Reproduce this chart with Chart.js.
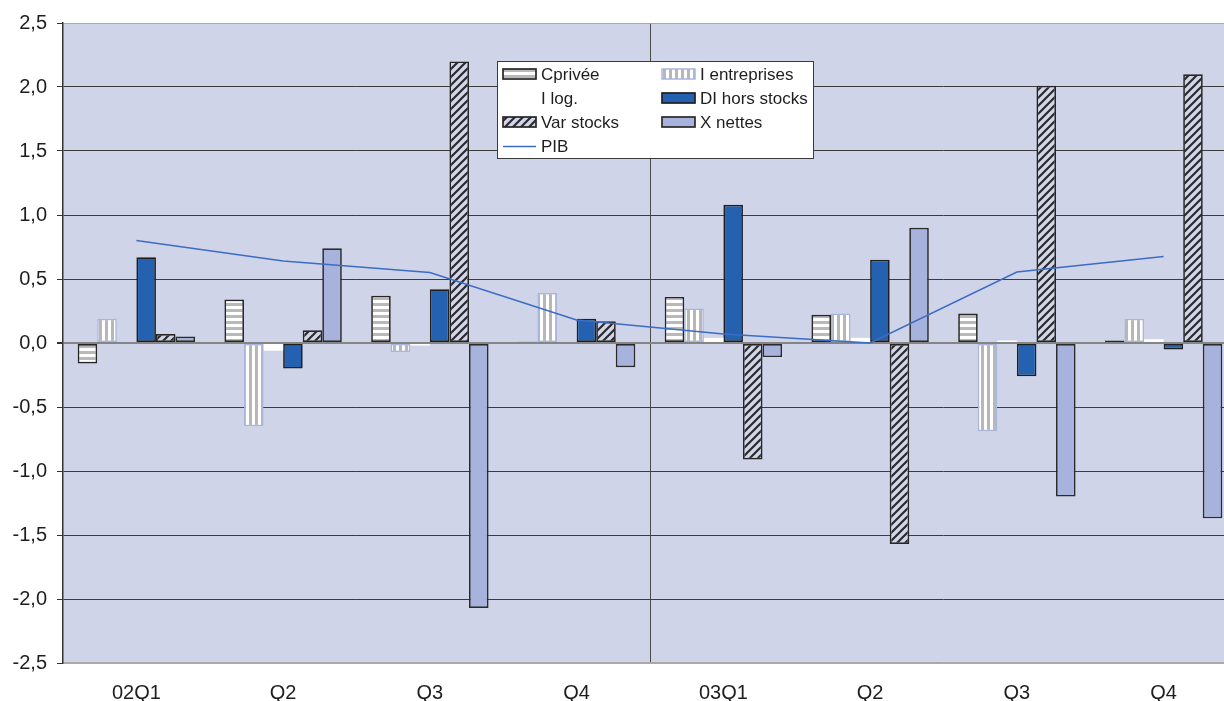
<!DOCTYPE html>
<html lang="fr">
<head>
<meta charset="utf-8">
<title>Contributions à la croissance du PIB</title>
<script src="https://cdn.jsdelivr.net/npm/chart.js@4/dist/chart.umd.min.js"></script>
<style>
  html, body { margin: 0; padding: 0; background: #ffffff; overflow: hidden; }
  #wrap { width: 1237px; height: 701px; }
  canvas { display: block; }
</style>
</head>
<body>
<div id="wrap"><canvas id="c" width="1237" height="701"></canvas></div>
<script>
// Trimestres
const categories = ['02Q1', 'Q2', 'Q3', 'Q4', '03Q1', 'Q2', 'Q3', 'Q4'];

// Contributions à la croissance trimestrielle (points de %)
const cPrivee      = [-0.16, 0.34, 0.37, 0.01, 0.36, 0.22, 0.23, 0.02];
const iEntreprises = [0.19, -0.65, -0.07, 0.39, 0.27, 0.23, -0.69, 0.19];
const iLog         = [0.00, -0.06, -0.02, 0.00, 0.04, 0.04, 0.02, 0.03];
const diHorsStocks = [0.67, -0.20, 0.42, 0.19, 1.08, 0.65, -0.26, -0.05];
const varStocks    = [0.07, 0.10, 2.20, 0.17, -0.91, -1.57, 2.01, 2.10];
const xNettes      = [0.05, 0.74, -2.07, -0.19, -0.11, 0.90, -1.20, -1.37];
const pib          = [0.80, 0.64, 0.55, 0.18, 0.07, 0.00, 0.555, 0.675];

// Axe des ordonnées
const yMin = -2.5, yMax = 2.5, yStep = 0.5;

const FONT = "'Liberation Sans', Arial, Helvetica, sans-serif";

// Motifs de remplissage
function makePattern(w, h, paint) {
  const c = document.createElement('canvas');
  c.width = w; c.height = h;
  const g = c.getContext('2d');
  paint(g, w, h);
  return g.createPattern(c, 'repeat');
}
const patHoriz = makePattern(6, 6, (g, w, h) => {
  g.fillStyle = '#ffffff'; g.fillRect(0, 0, w, h);
  g.fillStyle = '#b9b9b9'; g.fillRect(0, 3, w, 3);
});
const patVert = makePattern(6, 6, (g, w, h) => {
  g.fillStyle = '#ffffff'; g.fillRect(0, 0, w, h);
  g.fillStyle = '#b7b7b7'; g.fillRect(3, 0, 3, h);
});
const patDiag = makePattern(8, 8, (g, w, h) => {
  g.fillStyle = '#d2d6ec'; g.fillRect(0, 0, w, h);
  g.strokeStyle = '#2b2b2b'; g.lineWidth = 2.2;
  g.beginPath();
  g.moveTo(-2, h + 2); g.lineTo(w + 2, -2);
  g.moveTo(-2, 2); g.lineTo(2, -2);
  g.moveTo(w - 2, h + 2); g.lineTo(w + 2, h - 2);
  g.stroke();
});

const barCommon = {
  type: 'bar',
  borderSkipped: false,
  barPercentage: 1,
  categoryPercentage: 0.8,
  order: 1
};

const datasets = [
  Object.assign({ label: 'Cprivée', data: cPrivee, backgroundColor: patHoriz, borderColor: '#262626', borderWidth: 1.7 }, barCommon),
  Object.assign({ label: 'I entreprises', data: iEntreprises, backgroundColor: patVert, borderColor: '#aab5de', borderWidth: 1.5 }, barCommon),
  Object.assign({ label: 'I log.', data: iLog, backgroundColor: '#ffffff', borderColor: '#ffffff', borderWidth: 0 }, barCommon),
  Object.assign({ label: 'DI hors stocks', data: diHorsStocks, backgroundColor: '#2461b1', borderColor: '#1f1f1f', borderWidth: 1.7 }, barCommon),
  Object.assign({ label: 'Var stocks', data: varStocks, backgroundColor: patDiag, borderColor: '#262626', borderWidth: 1.7 }, barCommon),
  Object.assign({ label: 'X nettes', data: xNettes, backgroundColor: '#a7b3dc', borderColor: '#2a2a2a', borderWidth: 1.7 }, barCommon),
  {
    type: 'line', label: 'PIB', data: pib,
    borderColor: '#3b6cc6', borderWidth: 1.5, pointRadius: 0, tension: 0,
    fill: false, order: 0
  }
];

// Fond de la zone de tracé
const plotBackground = {
  id: 'plotBackground',
  beforeDraw(chart) {
    const { ctx, chartArea: a } = chart;
    ctx.save();
    ctx.fillStyle = '#cfd4e9';
    ctx.fillRect(a.left, a.top, a.right - a.left, a.bottom - a.top);
    ctx.restore();
  }
};

// Légende encadrée sur deux colonnes
const boxLegend = {
  id: 'boxLegend',
  afterDraw(chart) {
    const ctx = chart.ctx;
    const box = { x: 497, y: 61, w: 316, h: 97 };
    const rowsY = [74, 98, 122, 146];
    const swX = [503, 662], swW = 33, swH = 10;
    const txtX = [541, 700];
    ctx.save();
    ctx.fillStyle = '#ffffff';
    ctx.fillRect(box.x, box.y, box.w, box.h);
    ctx.strokeStyle = '#3a3a3a'; ctx.lineWidth = 1;
    ctx.strokeRect(box.x + 0.5, box.y + 0.5, box.w, box.h);
    ctx.font = '17px ' + FONT;
    ctx.textBaseline = 'middle';
    ctx.textAlign = 'left';
    chart.data.datasets.forEach((ds, i) => {
      const col = i % 2, row = Math.floor(i / 2);
      const y = rowsY[row];
      const x = swX[col];
      if (ds.type === 'line') {
        ctx.strokeStyle = ds.borderColor; ctx.lineWidth = ds.borderWidth;
        ctx.beginPath(); ctx.moveTo(x, y + 0.5); ctx.lineTo(x + swW, y + 0.5); ctx.stroke();
      } else {
        ctx.fillStyle = ds.backgroundColor;
        ctx.fillRect(x, y - swH / 2, swW, swH);
        if (ds.borderWidth > 0) {
          ctx.strokeStyle = ds.borderColor; ctx.lineWidth = ds.borderWidth;
          ctx.strokeRect(x, y - swH / 2, swW, swH);
        }
      }
      ctx.fillStyle = '#1e1e1e';
      ctx.fillText(ds.label, txtX[col], y + 1);
    });
    ctx.restore();
  }
};

new Chart(document.getElementById('c'), {
  type: 'bar',
  data: { labels: categories, datasets },
  plugins: [plotBackground, boxLegend],
  options: {
    responsive: false,
    devicePixelRatio: 1,
    animation: false,
    layout: { padding: { top: 23, right: 0, bottom: 0, left: 0 } },
    plugins: { legend: { display: false }, tooltip: { enabled: false } },
    scales: {
      x: {
        offset: true,
        afterFit(scale) { scale.height = 38; },
        grid: {
          offset: true,
          drawTicks: false,
          color: (c) => (c.index === 4 ? '#4a4a4a' : 'rgba(0,0,0,0)'),
          lineWidth: 1
        },
        border: { display: true, color: '#a9a9a9', width: 1.5 },
        ticks: {
          padding: 18,
          color: '#1e1e1e',
          font: { family: FONT, size: 20 },
          maxRotation: 0,
          autoSkip: false
        }
      },
      y: {
        min: yMin,
        max: yMax,
        afterFit(scale) { scale.width = 63; },
        grid: {
          color: (c) => {
            const v = c.tick ? c.tick.value : null;
            if (v === 0) return '#858585';
            if (v === yMax || v === yMin) return '#a9a9a9';
            return '#3c3c3c';
          },
          lineWidth: (c) => (c.tick && c.tick.value === 0 ? 2 : 1),
          tickColor: '#333333',
          tickLength: 6
        },
        border: { display: true, color: '#333333', width: 1.5 },
        ticks: {
          stepSize: yStep,
          padding: 10,
          color: '#1e1e1e',
          font: { family: FONT, size: 20 },
          callback: (v) => v.toFixed(1).replace('.', ',')
        }
      }
    }
  }
});
</script>
</body>
</html>
